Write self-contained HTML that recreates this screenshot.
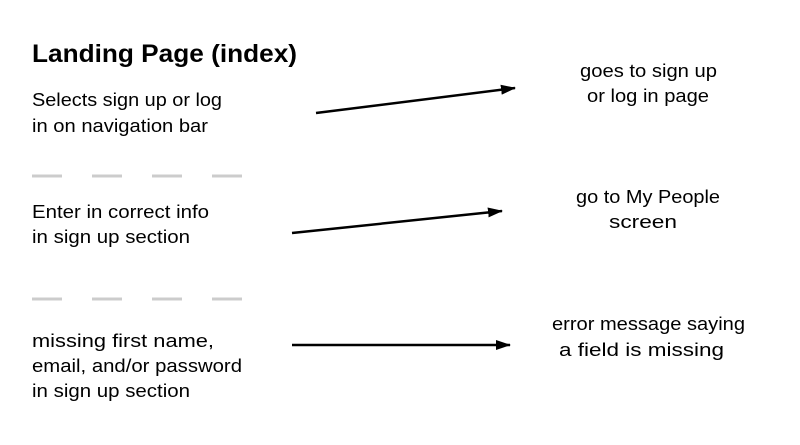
<!DOCTYPE html>
<html><head><style>
body{margin:0;width:800px;height:440px;background:#fff;overflow:hidden}
svg text{font-family:"Liberation Sans",sans-serif;fill:#000}
</style></head><body>
<svg width="800" height="440" viewBox="0 0 800 440">
<defs><marker id="a" markerWidth="15" markerHeight="10" refX="14" refY="5" orient="auto" markerUnits="userSpaceOnUse"><path d="M0,0 L15,5 L0,10 z" fill="#000"/></marker></defs>
<text x="32" y="62" font-size="25" font-weight="bold" textLength="265" lengthAdjust="spacingAndGlyphs">Landing Page (index)</text>
<g font-size="18" lengthAdjust="spacingAndGlyphs">
<text x="32" y="106" textLength="190" lengthAdjust="spacingAndGlyphs">Selects sign up or log</text>
<text x="32" y="132" textLength="176" lengthAdjust="spacingAndGlyphs">in on navigation bar</text>
<text x="32" y="218" textLength="177" lengthAdjust="spacingAndGlyphs">Enter in correct info</text>
<text x="32" y="243" textLength="158" lengthAdjust="spacingAndGlyphs">in sign up section</text>
<text x="32" y="347" textLength="182" lengthAdjust="spacingAndGlyphs">missing first name,</text>
<text x="32" y="372" textLength="210" lengthAdjust="spacingAndGlyphs">email, and/or password</text>
<text x="32" y="397" textLength="158" lengthAdjust="spacingAndGlyphs">in sign up section</text>
</g>
<g font-size="18">
<text x="580" y="77" textLength="137" lengthAdjust="spacingAndGlyphs">goes to sign up</text>
<text x="587" y="102" textLength="122" lengthAdjust="spacingAndGlyphs">or log in page</text>
<text x="576" y="203" textLength="144" lengthAdjust="spacingAndGlyphs">go to My People</text>
<text x="609" y="228" textLength="68" lengthAdjust="spacingAndGlyphs">screen</text>
<text x="552" y="330" textLength="193" lengthAdjust="spacingAndGlyphs">error message saying</text>
<text x="559" y="356" textLength="165" lengthAdjust="spacingAndGlyphs">a field is missing</text>
</g>
<g stroke="#ccc" stroke-width="3">
<line x1="32" y1="176" x2="62" y2="176"/><line x1="92" y1="176" x2="122" y2="176"/><line x1="152" y1="176" x2="182" y2="176"/><line x1="212" y1="176" x2="242" y2="176"/>
<line x1="32" y1="299" x2="62" y2="299"/><line x1="92" y1="299" x2="122" y2="299"/><line x1="152" y1="299" x2="182" y2="299"/><line x1="212" y1="299" x2="242" y2="299"/>
</g>
<g stroke="#000" stroke-width="2.5" marker-end="url(#a)">
<line x1="316" y1="113" x2="515" y2="88"/>
<line x1="292" y1="233" x2="502" y2="211"/>
<line x1="292" y1="345" x2="510" y2="345"/>
</g>
</svg>
</body></html>
